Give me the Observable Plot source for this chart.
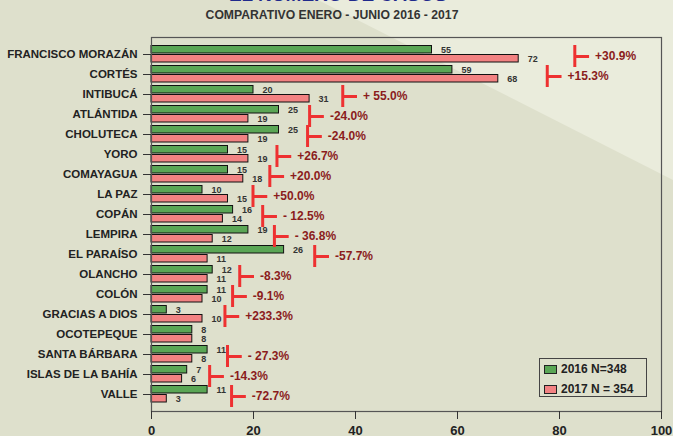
<!DOCTYPE html>
<html>
<head>
<meta charset="utf-8">
<script src="https://cdn.jsdelivr.net/npm/d3@7"></script>
<script src="https://cdn.jsdelivr.net/npm/@observablehq/plot@0.6"></script>
<style>
  html, body { margin: 0; padding: 0; }
  body { width: 673px; height: 436px; overflow: hidden; position: relative; background: #dee0cc; font-family: "Liberation Sans", Arial, sans-serif; }
  #light { position: absolute; left: 0; top: 0; width: 673px; height: 436px; background: #eaecdc; clip-path: polygon(318px 0, 673px 0, 673px 180px); }
  #title { position: absolute; top: -15px; left: 0; width: 676px; text-align: center; font-size: 19px; line-height: 20px; font-weight: bold; color: #1f2a8c; white-space: nowrap; }
  #subtitle { position: absolute; top: 8px; left: 0; width: 664px; text-align: center; font-size: 12.2px; font-weight: bold; color: #333; white-space: nowrap; }
  #chart { position: absolute; left: 0; top: 0; }
  #chart svg text { font-weight: bold; }
  #legend { position: absolute; left: 539px; top: 358px; width: 106px; height: 37px; border: 1px solid #444; font-size: 12px; font-weight: bold; color: #222; }
  .li { position: absolute; left: 4px; display: flex; align-items: center; white-space: nowrap; }
  .sw { width: 11px; height: 7px; border: 1px solid #222; margin-right: 4px; }
</style>
</head>
<body>
<div id="light"></div>
<div id="title">EL NÚMERO DE CASOS</div>
<div id="subtitle">COMPARATIVO ENERO - JUNIO 2016 - 2017</div>
<div id="chart"></div>
<div id="legend"></div>
<script>
const provinces = ["FRANCISCO MORAZÁN","CORTÉS","INTIBUCÁ","ATLÁNTIDA","CHOLUTECA","YORO","COMAYAGUA","LA PAZ","COPÁN","LEMPIRA","EL PARAÍSO","OLANCHO","COLÓN","GRACIAS A DIOS","OCOTEPEQUE","SANTA BÁRBARA","ISLAS DE LA BAHÍA","VALLE"];
const cases2016 = [55,59,20,25,25,15,15,10,16,19,26,12,11,3,8,11,7,11];
const cases2017 = [72,68,31,19,19,19,18,15,14,12,11,11,10,10,8,8,6,3];
const changeLabels = ["+30.9%","+15.3%","+ 55.0%","-24.0%","-24.0%","+26.7%","+20.0%","+50.0%","- 12.5%","- 36.8%","-57.7%","-8.3%","-9.1%","+233.3%","","- 27.3%","-14.3%","-72.7%"];
const changeX = [83,77.6,37.5,31,30.6,24.6,23.2,19.9,21.8,24.1,32,17.3,15.9,14.4,null,14.9,11.4,15.7];
const xTicks = [0,20,40,60,80,100];
const seriesNames = ["2016 N=348","2017 N = 354"];
const seriesColors = ["#5aa655","#f28282"];

const rows = provinces.map((name, i) => ({name, v2016: cases2016[i], v2017: cases2017[i], label: changeLabels[i], cx: changeX[i]}));
const notes = rows.filter(d => d.label);
const armLen = 2.8;

const chart = Plot.plot({
  width: 673,
  height: 436,
  marginTop: 37,
  marginBottom: 25,
  marginLeft: 151,
  marginRight: 12,
  style: {background: "transparent", fontFamily: "'Liberation Sans', Arial, sans-serif", color: "#222"},
  x: {domain: [0, 100]},
  y: {domain: provinces, padding: 0},
  marks: [
    Plot.barX(rows, {x: "v2016", y: "name", fill: seriesColors[0], stroke: "#111", strokeWidth: 1, insetTop: 1.5, insetBottom: 11}),
    Plot.barX(rows, {x: "v2017", y: "name", fill: seriesColors[1], stroke: "#111", strokeWidth: 1, insetTop: 10.5, insetBottom: 2}),
    Plot.text(rows, {x: "v2016", y: "name", text: d => String(d.v2016), dx: 9, dy: -4.5, textAnchor: "start", fontSize: 9, fill: "#333"}),
    Plot.text(rows, {x: "v2017", y: "name", text: d => String(d.v2017), dx: 9, dy: 5, textAnchor: "start", fontSize: 9, fill: "#333"}),
    Plot.tickX(notes, {x: "cx", y: "name", stroke: "#ee3131", strokeWidth: 3, dy: 2, insetTop: -1, insetBottom: -1}),
    Plot.link(notes, {x1: "cx", x2: d => d.cx + armLen, y1: "name", y2: "name", stroke: "#ee3131", strokeWidth: 3, dy: 2}),
    Plot.text(notes, {x: d => d.cx + armLen, y: "name", text: "label", dx: 6, dy: 2, textAnchor: "start", fontSize: 12, fill: "#8b1c1c"}),
    Plot.frame({stroke: "#555", strokeWidth: 1.2}),
    Plot.axisX({ticks: xTicks, tickSize: 8, tickPadding: 6, fontSize: 13, label: null, stroke: "#333", color: "#222"}),
    Plot.axisY({tickSize: 8, tickPadding: 6, fontSize: 11.5, label: null, stroke: "#333", color: "#222"})
  ]
});
document.getElementById("chart").appendChild(chart);

const legend = document.getElementById("legend");
seriesNames.forEach((n, i) => {
  const item = document.createElement("div");
  item.className = "li";
  item.style.top = (i === 0 ? 3 : 23) + "px";
  item.innerHTML = `<span class="sw" style="background:${seriesColors[i]}"></span><span>${n}</span>`;
  legend.appendChild(item);
});
</script>
</body>
</html>
